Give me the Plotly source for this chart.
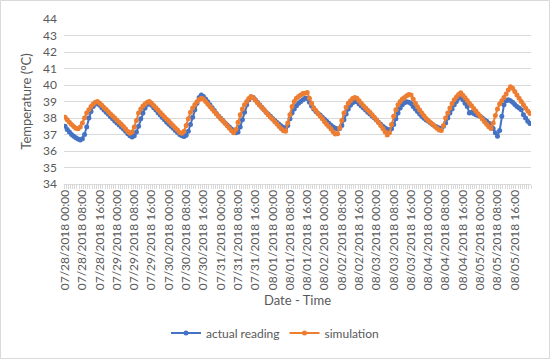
import pandas as pd
import plotly.graph_objects as go

# hourly timestamps, 07/28/2018 00:00 .. 08/05/2018 23:00
times = pd.date_range("2018-07-28 00:00", periods=216, freq="h")
categories = [t.strftime("%m/%d/%Y %H:%M") for t in times]

actual_reading = [
    # 07/28
    37.50, 37.30, 37.15, 37.00, 36.90, 36.80, 36.72, 36.67, 36.75, 37.00, 37.45, 38.00,
    38.40, 38.70, 38.85, 38.90, 38.78, 38.62, 38.48, 38.35, 38.22, 38.08, 37.95, 37.82,
    # 07/29
    37.70, 37.58, 37.45, 37.33, 37.20, 37.05, 36.92, 36.85, 36.92, 37.15, 37.50, 37.95,
    38.30, 38.60, 38.82, 38.90, 38.78, 38.62, 38.48, 38.32, 38.18, 38.03, 37.90, 37.75,
    # 07/30
    37.62, 37.50, 37.38, 37.25, 37.12, 37.00, 36.92, 36.88, 36.95, 37.20, 37.60, 38.05,
    38.50, 38.90, 39.25, 39.40, 39.30, 39.15, 38.98, 38.80, 38.62, 38.45, 38.28, 38.12,
    # 07/31
    37.98, 37.85, 37.70, 37.57, 37.45, 37.33, 37.20, 37.10, 37.15, 37.45, 37.90, 38.35,
    38.80, 39.10, 39.28, 39.25, 39.10, 38.95, 38.80, 38.65, 38.50, 38.35, 38.22, 38.10,
    # 08/01
    37.97, 37.85, 37.73, 37.62, 37.52, 37.43, 37.40, 37.55, 37.95, 38.30, 38.55, 38.75,
    38.90, 39.00, 39.10, 39.20, 39.18, 38.95, 38.72, 38.55, 38.40, 38.28, 38.18, 38.05,
    # 08/02
    37.93, 37.80, 37.68, 37.56, 37.46, 37.38, 37.33, 37.36, 37.55, 37.90, 38.25, 38.55,
    38.78, 38.92, 39.00, 38.98, 38.85, 38.72, 38.60, 38.48, 38.35, 38.25, 38.12, 38.00,
    # 08/03
    37.88, 37.75, 37.62, 37.50, 37.40, 37.32, 37.27, 37.35, 37.60, 37.95, 38.30, 38.60,
    38.80, 38.92, 38.98, 38.95, 38.88, 38.70, 38.55, 38.40, 38.25, 38.10, 37.98, 37.88,
    # 08/04
    37.80, 37.70, 37.60, 37.52, 37.45, 37.40, 37.38, 37.50, 37.70, 38.00, 38.30, 38.55,
    38.80, 39.00, 39.20, 39.30, 39.10, 38.90, 38.70, 38.30, 38.35, 38.28, 38.20, 38.15,
    # 08/05
    38.10, 38.00, 37.90, 37.80, 37.68, 37.50, 37.37, 37.10, 36.90, 37.25, 38.10, 38.80,
    39.05, 39.10, 39.05, 38.95, 38.82, 38.70, 38.60, 38.50, 38.20, 38.00, 37.80, 37.66,
]

simulation = [
    # 07/28
    38.05, 37.90, 37.75, 37.60, 37.48, 37.38, 37.35, 37.45, 37.70, 38.00, 38.30, 38.50,
    38.70, 38.85, 38.95, 39.00, 38.90, 38.77, 38.64, 38.51, 38.38, 38.25, 38.12, 38.00,
    # 07/29
    37.87, 37.75, 37.62, 37.48, 37.33, 37.18, 37.07, 37.15, 37.45, 37.85, 38.30, 38.55,
    38.72, 38.85, 38.95, 39.00, 38.90, 38.76, 38.62, 38.48, 38.34, 38.20, 38.06, 37.92,
    # 07/30
    37.80, 37.67, 37.53, 37.40, 37.27, 37.12, 37.07, 37.20, 37.55, 37.95, 38.35, 38.60,
    38.80, 38.98, 39.12, 39.20, 39.15, 39.00, 38.85, 38.70, 38.55, 38.40, 38.25, 38.10,
    # 07/31
    37.96, 37.82, 37.68, 37.53, 37.38, 37.22, 37.10, 37.30, 37.75, 38.20, 38.55, 38.80,
    39.00, 39.18, 39.30, 39.22, 39.08, 38.93, 38.78, 38.64, 38.50, 38.35, 38.20, 38.05,
    # 08/01
    37.92, 37.78, 37.63, 37.48, 37.35, 37.23, 37.20, 37.70, 38.20, 38.70, 39.00, 39.20,
    39.30, 39.40, 39.48, 39.50, 39.55, 39.20, 38.90, 38.62, 38.45, 38.28, 38.10, 37.95,
    # 08/02
    37.78, 37.62, 37.48, 37.33, 37.17, 37.03, 37.05, 37.40, 37.85, 38.30, 38.65, 38.90,
    39.05, 39.18, 39.25, 39.20, 39.05, 38.90, 38.75, 38.60, 38.47, 38.35, 38.20, 38.05,
    # 08/03
    37.90, 37.73, 37.55, 37.37, 37.17, 36.97, 37.10, 37.60, 38.10, 38.50, 38.80, 39.00,
    39.15, 39.25, 39.35, 39.43, 39.40, 39.15, 38.90, 38.68, 38.48, 38.30, 38.13, 37.97,
    # 08/04
    37.85, 37.73, 37.62, 37.50, 37.38, 37.28, 37.25, 37.55, 38.00, 38.30, 38.60, 38.88,
    39.10, 39.28, 39.42, 39.53, 39.38, 39.22, 39.06, 38.90, 38.74, 38.58, 38.42, 38.26,
    # 08/05
    38.10, 37.94, 37.78, 37.62, 37.47, 37.37, 37.70, 38.15, 38.55, 38.85, 39.05, 39.25,
    39.45, 39.70, 39.90, 39.80, 39.60, 39.40, 39.20, 39.00, 38.80, 38.60, 38.42, 38.28,
]

label_step = 8
x_idx = list(range(len(categories)))
tick_vals = x_idx[::label_step]
tick_text = categories[::label_step]

BLUE = "#4472C4"
ORANGE = "#ED7D31"
TXT = "#595959"
GRID = "#D9D9D9"

fig = go.Figure()
fig.add_trace(go.Scatter(
    x=x_idx, y=actual_reading, name="actual reading", mode="lines+markers",
    line=dict(color=BLUE, width=2), marker=dict(color=BLUE, size=5),
    customdata=categories, hovertemplate="%{customdata}<br>%{y}<extra></extra>"))
fig.add_trace(go.Scatter(
    x=x_idx, y=simulation, name="simulation", mode="lines+markers",
    line=dict(color=ORANGE, width=2), marker=dict(color=ORANGE, size=5),
    customdata=categories, hovertemplate="%{customdata}<br>%{y}<extra></extra>"))

L, R, T, B = 64, 19, 19, 175
W, H = 550, 359
pw, ph = W - L - R, H - T - B

fig.update_layout(
    width=W, height=H,
    margin=dict(l=L, r=R, t=T, b=B, pad=0, autoexpand=False),
    paper_bgcolor="white", plot_bgcolor="white",
    font=dict(family="Lato, Carlito, Calibri, sans-serif", size=12, color=TXT),
    showlegend=True,
    legend=dict(orientation="h", x=(W / 2 - L) / pw, xanchor="center",
                y=-(333 - (T + ph)) / ph, yanchor="middle",
                font=dict(size=12, color=TXT), itemwidth=30, traceorder="normal"),
    xaxis=dict(
        range=[-0.5, len(categories) - 0.5], automargin=False,
        tickmode="array", tickvals=tick_vals, ticktext=tick_text,
        tickangle=-90, ticks="", showgrid=False, zeroline=False,
        showline=True, linecolor=GRID, linewidth=1,
        tickfont=dict(size=12, color=TXT),
        minor=dict(ticks="outside", tick0=-0.5, dtick=1, ticklen=4, tickcolor=GRID, tickwidth=1, showgrid=False),
        title=dict(text="Date - Time", font=dict(size=13, color=TXT), standoff=6),
    ),
    yaxis=dict(
        range=[34, 44], dtick=1, tick0=34, showgrid=True, gridcolor=GRID, gridwidth=1,
        zeroline=False, showline=False, ticks="", automargin=False,
        tickfont=dict(size=12, color=TXT), ticklabelstandoff=6,
        title=dict(text="Temperature (°C)", font=dict(size=13, color=TXT), standoff=8),
    ),
    shapes=[dict(
        type="rect", xref="paper", yref="paper",
        x0=(0.5 - L) / pw, x1=(W - 0.5 - L) / pw,
        y0=(T + ph - (H - 0.5)) / ph, y1=(T + ph - 0.5) / ph,
        line=dict(color=GRID, width=1), fillcolor="rgba(0,0,0,0)", layer="below")],
)

fig.write_html("out.html", config={"displayModeBar": False},
               post_script="document.body.style.margin='0px';document.body.style.overflow='hidden';")
